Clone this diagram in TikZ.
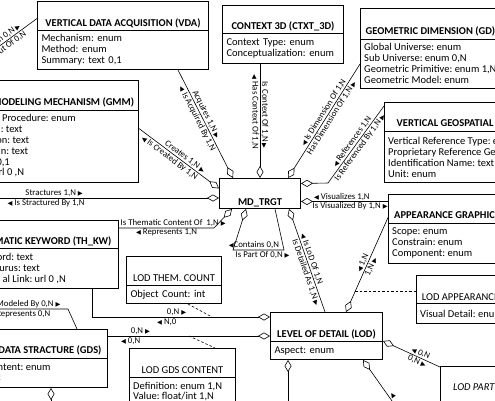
\documentclass[tikz,border=0pt]{standalone}
\usepackage{fontspec}
\setmainfont{Carlito}
\newfontfamily\trifont{DejaVu Sans}
\usetikzlibrary{arrows.meta}
\frenchspacing
\newcommand\rtri{{\trifont\fontsize{6.3}{6.3}\selectfont ▶}}
\newcommand\ltri{{\trifont\fontsize{6.3}{6.3}\selectfont ◀}}
\tikzset{
  ent/.style={draw, line width=1pt, inner sep=0pt, anchor=north west},
  ttl/.style={font=\fontsize{10.5}{11}\selectfont\bfseries, inner sep=0pt},
  ttlr/.style={font=\fontsize{10.5}{11}\selectfont, inner sep=0pt},
  ttli/.style={font=\fontsize{10.5}{11}\selectfont\itshape, inner sep=0pt},
  attr/.style={font=\fontsize{10.5}{11}\selectfont, align=left, inner xsep=4pt, inner ysep=0pt},
  frag/.style={font=\fontsize{10.5}{11}\selectfont, inner sep=0pt, anchor=base east},
  lbl/.style={font=\fontsize{8.8}{9}\selectfont, inner sep=1pt},
  conn/.style={draw, line width=0.6pt},
  agg/.style={-{Diamond[open, length=12pt, width=7pt]}},
  gga/.style={{Diamond[open, length=12pt, width=7pt]}-},
  assoc/.style={draw, line width=0.6pt, dash pattern=on 2.5pt off 2pt},
}
\begin{document}
\begin{tikzpicture}[x=1pt,y=-1pt]
\useasboundingbox (0,0) rectangle (495,400);
\fill[white] (0,0) rectangle (495,400);

% VDA
\node[ent, minimum width=171pt, minimum height=29pt] (vda) at (37,1) {};
\node[ent, attr, minimum width=171pt, minimum height=39pt, text width=163pt] (vdab) at (37,30) {Mechanism: enum\\Method: enum\\Summary: text 0,1};
\node[ttl, anchor=base] (vdat) at ([yshift=4.5pt]vda.south) {VERTICAL DATA ACQUISITION (VDA)};

% CTXT
\node[ent, minimum width=121pt, minimum height=28pt] (ctxt) at (222,5) {};
\node[ent, attr, minimum width=121pt, minimum height=30pt, text width=113pt] (ctxtb) at (222,33) {Context Type: enum\\Conceptualization: enum};
\node[ttl, anchor=base] (ctxtt) at ([yshift=4.5pt]ctxt.south) {CONTEXT 3D (CTXT\_3D)};

% GD
\node[ent, minimum width=160pt, minimum height=31pt] (gd) at (360,8) {};
\node[ent, minimum width=160pt, minimum height=49pt] (gdb) at (360,39) {};
\node[ttl, anchor=base west] (gdt) at (365.5,34) {GEOMETRIC DIMENSION (GD)};
\node[attr, anchor=west] (gda) at ([yshift=1pt]gdb.west) {Global Universe: enum\\Sub Universe: enum 0,N\\Geometric Primitive: enum 1,N\\Geometric Model: enum};

% VG
\node[ent, minimum width=136pt, minimum height=29pt] (vg) at (384,102) {};
\node[ent, minimum width=136pt, minimum height=51pt] (vgb) at (384,131) {};
\node[ttl, anchor=base west] (vgt) at (396.5,126.5) {VERTICAL GEOSPATIAL};
\node[attr, anchor=west] (vga) at (vgb.west) {Vertical Reference Type: enum\\Proprietary Reference Geoid\\Identification Name: text\\Unit: enum};

% AG
\node[ent, minimum width=132pt, minimum height=29pt] (ag) at (388,194) {};
\node[ent, minimum width=132pt, minimum height=40pt] (agb) at (388,223) {};
\node[ttl, anchor=base west] (agt) at (394,218) {APPEARANCE GRAPHICS};
\node[attr, anchor=west] (aga) at ([yshift=1pt]agb.west) {Scope: enum\\Constrain: enum\\Component: enum};

% GMM
\node[ent, minimum width=158pt, minimum height=30pt] (gmm) at (-20,80) {};
\node[ent, minimum width=158pt, minimum height=72pt] (gmmb) at (-20,110) {};
\node[ttl, anchor=base east] (gmmt) at (134.3,105) {GEOMETRIC MODELING MECHANISM (GMM)};
\node[frag] (gmm1) at (76,121) {Procedure: enum};
\node[frag] (gmm2) at (22.7,132) {: text};
\node[frag] (gmm3) at (29.3,143) {on: text};
\node[frag] (gmm4) at (28.3,154) {n: text};
\node[frag] (gmm5) at (10,165) {0,1};
\node[frag] (gmm6) at (24.3,175.5) {rl 0 ,N};

% MD_TRGT
\node[ent, minimum width=81pt, minimum height=30pt] (md) at (219,178) {};
\node[ttl, anchor=base] (mdt) at ([yshift=4pt]md.south) {MD\_TRGT};

% TH_KW
\node[ent, minimum width=138pt, minimum height=28pt] (thkw) at (-20,220) {};
\node[ent, minimum width=138pt, minimum height=40pt] (thkwb) at (-20,248) {};
\node[ttl, anchor=base east] (thkwt) at (111.7,244.3) {THEMATIC KEYWORD (TH\_KW)};
\node[frag] (thkw1) at (33.3,260.7) {ord: text};
\node[frag] (thkw2) at (40,271.3) {urus: text};
\node[frag] (thkw3) at (66,282.3) {al Link: url 0 ,N};

% LOD THEM. COUNT
\node[ent, minimum width=95pt, minimum height=29pt] (ltc) at (126,256) {};
\node[ent, attr, minimum width=95pt, minimum height=18pt, text width=87pt] (ltcb) at (126,285) {Object Count: int};
\node[ttlr, anchor=base] (ltct) at ([yshift=5pt]ltc.south) {LOD THEM. COUNT};

% GDS
\node[ent, minimum width=127pt, minimum height=29pt] (gds) at (-20,329) {};
\node[ent, minimum width=127pt, minimum height=29pt] (gdsb) at (-20,358) {};
\node[ttl, anchor=base east] (gdst) at (101.7,353.5) {GEOMETRIC DATA STRACTURE (GDS)};
\node[frag] (gds1) at (50.7,370.5) {ntent: enum};
\node[frag] (gds2) at (1.5,380.5) {:};

% LOD GDS CONTENT
\node[ent, minimum width=106pt, minimum height=29pt] (lgc) at (129,348) {};
\node[ent, minimum width=106pt, minimum height=45pt] (lgcb) at (129,377) {};
\node[ttlr, anchor=base] (lgct) at ([yshift=4.5pt]lgc.south) {LOD GDS CONTENT};
\node[frag, anchor=base west] (lgc1) at (133,389.3) {Definition: enum 1,N};
\node[frag, anchor=base west] (lgc2) at (133,399.5) {Value: float/int 1,N};

% LOD
\node[ent, minimum width=112pt, minimum height=29pt] (lod) at (270,312) {};
\node[ent, attr, minimum width=112pt, minimum height=18pt, text width=104pt] (lodb) at (270,341) {Aspect: enum};
\node[ttl, anchor=base] (lodt) at ([yshift=4.5pt]lod.south) {LEVEL OF DETAIL (LOD)};

% LOD APPEARANCE
\node[ent, minimum width=104pt, minimum height=28pt] (lap) at (416,275) {};
\node[ent, minimum width=104pt, minimum height=20pt] (lapb) at (416,303) {};
\node[ttlr, anchor=base west] (lapt) at (421.7,300) {LOD APPEARANCE};
\node[attr, anchor=west] (lapa) at (lapb.west) {Visual Detail: enum};

% LOD PART
\node[ent, minimum width=80pt, minimum height=40pt] (lpart) at (440,366) {};
\node[ttli, anchor=base west] (lpartt) at (453,390) {LOD PART};

% helper coordinates
\coordinate (vgbend) at (328,183);
\coordinate (mE1) at ([yshift=10pt]md.east);
\coordinate (mE2) at ([yshift=-8pt]md.east);
\coordinate (m2) at ([xshift=41pt]md.north west);
\coordinate (sfree) at (-10,198);
\coordinate (tkbend) at (214,228);
\coordinate (cl1) at (284,250);
\coordinate (cl2) at (233,250);
\coordinate (c3) at (92,317);
\coordinate (c4) at (0,336);
\coordinate (mfree) at (-10,309);
\coordinate (mbend) at (68,309);
\coordinate (vfree) at (-10,53);
\coordinate (lf1) at (288,410);
\coordinate (lf2) at (397,408);
\coordinate (gf) at (51,410);

% VDA left line
\draw[conn] (vfree) -- node[lbl, sloped, anchor=south east, pos=0.71] (l1a) {n 0,N \rtri}
  node[lbl, sloped, anchor=north east, pos=0.71] (l1b) {ut Of 0,N} ([yshift=-2.5pt]vda.west);

% VDA - MD
\draw[conn, agg] ([xshift=141pt]vdab.south west) --
  node[lbl, sloped, above, pos=0.43] (l2a) {Acquires 1,N \rtri}
  node[lbl, sloped, below, pos=0.43] (l2b) {\ltri\ Is Acquired By 1,N}
  ([xshift=14pt]md.north west);

% CTXT - MD
\draw[conn, agg] (ctxtb.south -| m2) --
  node[lbl, sloped, above, pos=0.45] (l3a) {Is Context Of 1,N \rtri}
  node[lbl, sloped, below, pos=0.42] (l3b) {\ltri\ Has Context Of 1,N} (m2);

% GD - MD
\draw[conn, gga] ([xshift=69pt]md.north west) --
  node[lbl, sloped, above, pos=0.55] (l4a) {\ltri\ Is Dimension Of 1,N}
  node[lbl, sloped, below, pos=0.55] (l4b) {Has Dimension Of 1,N \rtri} (gdb.west);

% VG - MD
\draw[conn, gga] (mE1) -- (vgbend) --
  node[lbl, sloped, above, pos=0.5] (l5a) {\ltri\ References 1,N}
  node[lbl, sloped, below, pos=0.5] (l5b) {Is Referenced By 1,N \rtri}
  ([yshift=-4pt]vg.north west);

% AG - MD
\draw[conn, agg] (ag.west |- mE2) --
  node[lbl, above, pos=0.53] (l6a) {\ltri\ Visualizes 1,N}
  node[lbl, below, pos=0.435] (l6b) {Is Visualized By 1,N \rtri} (mE2);

% GMM - MD
\draw[conn, agg] ([yshift=18pt]gmmb.east) --
  node[lbl, sloped, above, pos=0.54] (l7a) {Creates 1,N \rtri}
  node[lbl, sloped, below, pos=0.42] (l7b) {\ltri\ Is Created By 1,N}
  ([yshift=5pt]md.west);

% Stractures
\draw[conn, agg] (sfree) --
  node[lbl, above, pos=0.28] (l8a) {Stractures 1,N \rtri}
  node[lbl, below, pos=0.245] (l8b) {\ltri\ Is Stractured By 1,N} (md.west |- sfree);

% TH_KW - MD
\draw[conn, agg] (thkw.east |- tkbend) --
  node[lbl, above, pos=0.57] (l9a) {Is Thematic Content Of~~1,N \rtri}
  node[lbl, below, pos=0.5] (l9b) {\ltri\ Represents 1,N}
  (tkbend) -- ([xshift=13pt]md.south west);

% Contains loop
\draw[conn, agg] ([xshift=56pt]md.south west) -- (cl1) --
  node[lbl, above, pos=0.59] (l10a) {\ltri Contains 0,N}
  node[lbl, below, pos=0.42] (l10b) {Is Part Of 0,N \rtri}
  (cl2) -- ([xshift=27pt]md.south west);

% MD - LOD
\draw[conn, gga] ([xshift=70pt]md.south west) --
  node[lbl, sloped, above, pos=0.5] (l11a) {\ltri\ Is LoD Of 1,N}
  node[lbl, sloped, below, pos=0.6] (l11b) {Is Detailed As 1,N \rtri}
  ([xshift=55pt]lod.north west);

% LOD - AG
\draw[conn, gga] ([xshift=76pt]lod.north west) -- coordinate[pos=0.22] (dA)
  node[lbl, sloped, above, pos=0.5] (l12a) {\ltri\ 1,N}
  node[lbl, sloped, below, pos=0.5] (l12b) {1,N \rtri}
  ([yshift=-8.5pt]ag.west);
\draw[assoc] (dA) -- (lap.west |- dA);

% TH_KW - LOD (them. count)
\draw[conn, agg] (c3 |- thkwb.south) -- (c3) --
  node[lbl, above, pos=0.475] (l13a) {0,N \rtri}
  node[lbl, below, pos=0.42] (l13b) {\ltri\ N,0}
  coordinate[pos=0.674] (dB) (c3 -| lod.west);
\draw[assoc] ([xshift=14pt]ltcb.south) -- (dB);

% GDS - LOD
\draw[conn, agg] (gds.east |- c4) --
  node[lbl, above, pos=0.2] (l14a) {0,N \rtri}
  node[lbl, below, pos=0.14] (l14b) {\ltri\ 0,N}
  coordinate[pos=0.5] (dC) (lod.west |- c4);
\draw[assoc] (dC) -- ([xshift=86pt]lgc.north west);

% Modeled By
\draw[conn] (mfree) --
  node[lbl, anchor=south east, pos=0.92] (l15a) {Modeled By 0,N \rtri}
  node[lbl, anchor=north east, pos=0.79] (l15b) {Represents 0,N}
  (mbend) -- ([xshift=-31pt]gds.north east);

% LOD - LOD PART
\draw[conn, gga] (lodb.north east) --
  node[lbl, sloped, above, pos=0.63] (l16a) {\ltri\ 0,N}
  node[lbl, sloped, below, pos=0.63] (l16b) {0,N \rtri}
  ([yshift=-1pt]lpart.north west);

% LOD bottom lines
\draw[conn, agg] (lf1) -- ([xshift=18pt]lodb.south west);
\draw[conn, gga] ([xshift=93pt]lodb.south west) --
  node[lbl, sloped, above, pos=0.78] (l17a) {\ltri} (lf2);

% GDS bottom line
\draw[conn, agg] (gf) -- ([xshift=71pt]gdsb.south west);
\end{tikzpicture}
\end{document}
